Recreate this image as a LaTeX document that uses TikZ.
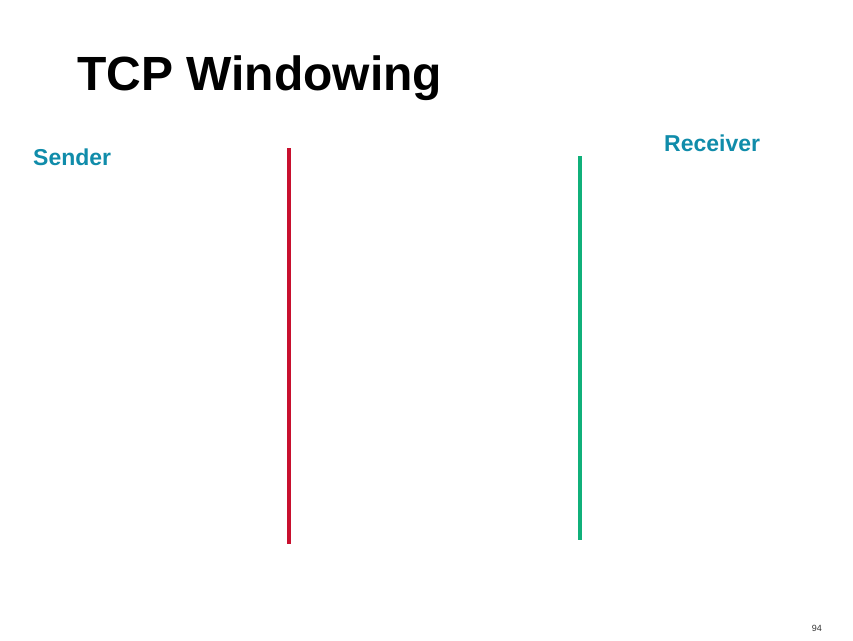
\documentclass[tikz,border=0pt]{standalone}
\usepackage{fontspec}
\setmainfont{Liberation Sans}
\usetikzlibrary{positioning}
\definecolor{labelblue}{RGB}{16,140,170}
\definecolor{senderred}{RGB}{200,16,46}
\definecolor{receivergreen}{RGB}{16,176,122}

\begin{document}
\begin{tikzpicture}[x=1pt,y=-1pt,
title/.style={anchor=base west,inner sep=0,font=\fontsize{48}{56}\selectfont\bfseries},
party/.style={anchor=base west,inner sep=0,text=labelblue,font=\fontsize{23}{27}\selectfont\bfseries},
timeline/.style={line width=4pt}]
\useasboundingbox (0,0) rectangle (853,640);
\node[title] (T) at (77,90) {TCP Windowing};
\node[party] (S) at (33,165) {Sender};
\node[party] (R) at (664,151) {Receiver};
\coordinate (s1) at (289,148);
\coordinate (s2) at (289,544);
\coordinate (r1) at (580,156);
\coordinate (r2) at (580,540);
\draw[timeline,senderred] (s1) -- (s2);
\draw[timeline,receivergreen] (r1) -- (r2);
\node[anchor=base east,inner sep=0,font=\fontsize{9}{11}\selectfont,text=black!80] (P) at (822,631) {94};
\end{tikzpicture}
\end{document}
